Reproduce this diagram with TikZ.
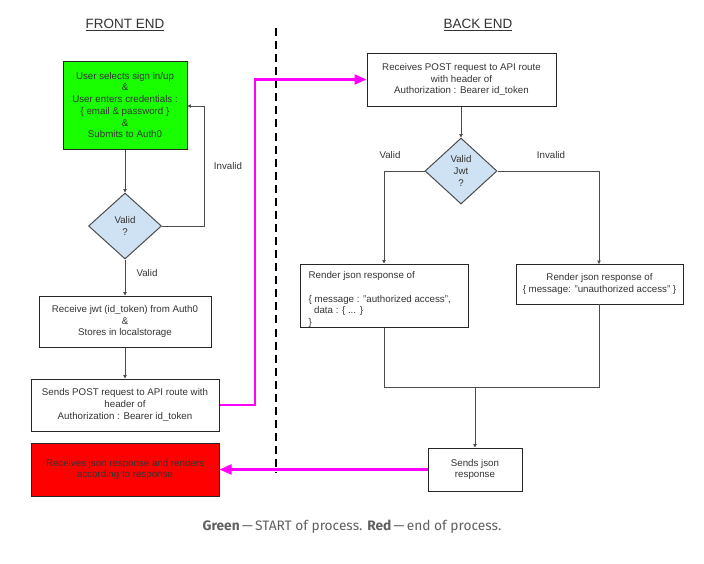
\documentclass[tikz,border=0pt]{standalone}
\usepackage{fontspec}
\setmainfont{Liberation Sans}
\newfontfamily\capfont{Fira Sans}
\usetikzlibrary{shapes.geometric,arrows.meta}
\definecolor{txt}{HTML}{333333}
\definecolor{startg}{HTML}{19FF00}
\definecolor{endr}{HTML}{FF0000}
\definecolor{dfill}{HTML}{CFE2F3}
\definecolor{mag}{HTML}{FF00FF}
\definecolor{capc}{HTML}{606060}
\tikzset{
  base/.style={font=\fontsize{7.3}{8.8}\selectfont, text=txt, align=center},
  box/.style={base, draw=black!85, line width=0.75pt, rectangle, inner sep=1pt},
  dec/.style={base, draw=black!70, line width=0.75pt, diamond, fill=dfill, inner sep=0pt},
  lbl/.style={base},
  title/.style={font=\fontsize{10.1}{12}\selectfont, text=txt},
  flow/.style={draw=black!70, line width=0.75pt},
  flowarr/.style={flow, -{Triangle[length=2.6pt,width=2.6pt]}},
  magarr/.style={draw=mag, line width=1.6pt, -{Triangle[length=9pt,width=7.5pt]}},
  divider/.style={draw=black, line width=2.2pt, dash pattern=on 6pt off 3.8pt}
}
\begin{document}
\begin{tikzpicture}[x=0.75pt,y=-0.75pt]
\useasboundingbox (0,0) rectangle (704,564);
% titles
\node[title] (fe) at (125,25) {\underline{FRONT END}};
\node[title] (be) at (478,25) {\underline{BACK END}};
% divider
\coordinate (dtop) at (276,28);
\coordinate (dbot) at (276,473);
\draw[divider] (dtop) -- (dbot);
% front end
\node[box, fill=startg, minimum width=93pt, minimum height=66pt] (start) at (125,105)
  {User selects sign in/up\\\&\\User enters credentials :\\\{ email \& password \}\\\&\\Submits to Auth0};
\node[dec, minimum width=54.75pt, minimum height=49.5pt] (v1) at (125,226) {Valid\\?};
\node[box, minimum width=129pt, minimum height=38.25pt] (recv) at (125,321.5)
  {Receive jwt (id\_token) from Auth0\\\&\\Stores in localstorage};
\node[box, minimum width=141pt, minimum height=39pt] (send) at (125,405)
  {Sends POST request to API route with\\header of\\Authorization : Bearer id\_token};
\node[box, fill=endr, minimum width=141pt, minimum height=39.75pt] (final) at (125,469.5)
  {Receives json response and renders\\according to response};
% back end
\node[box, minimum width=141.75pt, minimum height=39.75pt] (api) at (461.5,79.5)
  {Receives POST request to API route\\with header of\\Authorization : Bearer id\_token};
\node[dec, minimum width=54pt, minimum height=49.5pt] (v2) at (461,171) {Valid\\Jwt\\?};
\node[box, minimum width=126pt, minimum height=47.25pt] (ok) at (384,295.5) {};
\node[base, align=left, anchor=north west] (oktext) at (304,267)
  {Render json response of\\[8.8pt]\{ message : "authorized access",\\\ \ data : \{ ... \}\\\}};
\node[box, minimum width=125.25pt, minimum height=30pt] (bad) at (599.5,284)
  {Render json response of\\\{ message: "unauthorized access" \}};
\node[box, minimum width=70.5pt, minimum height=32.25pt] (resp) at (475,469.5)
  {Sends json\\response};
% labels
\node[lbl] (linv1) at (228,166) {Invalid};
\node[lbl] (lval1) at (147,273) {Valid};
\node[lbl] (lval2) at (390,155) {Valid};
\node[lbl] (linv2) at (551,155) {Invalid};
% front-end flow
\draw[flowarr] (start.south) -- (v1.north);
\draw[flowarr] (v1.east) -- (204,226) -- (204,106) -- (start.east |- 0,106);
\draw[flowarr] (v1.south) -- (recv.north);
\draw[flowarr] (recv.south) -- (send.north);
% back-end flow
\draw[flowarr] (api.south -| v2.north) -- (v2.north);
\draw[flowarr] (v2.west) -| (ok.north);
\draw[flowarr] (v2.east) -| (599,264);
\coordinate (mj) at (475,387);
\draw[flow] (ok.south) -- (384,387) -- (599,387) -- (599,304);
\draw[flowarr] (mj) -- (resp.north);
% cross flows
\draw[magarr] (send.east) -- (255,405) -- (255,79.5) -- (api.west);
\draw[magarr] (resp.west) -- (final.east);
% caption
\node[font=\capfont\fontsize{10.3}{12}\selectfont, text=capc] (cap) at (352,527)
  {\textbf{Green}\,—\,START of process. \textbf{Red}\,—\,end of process.};
\end{tikzpicture}
\end{document}
